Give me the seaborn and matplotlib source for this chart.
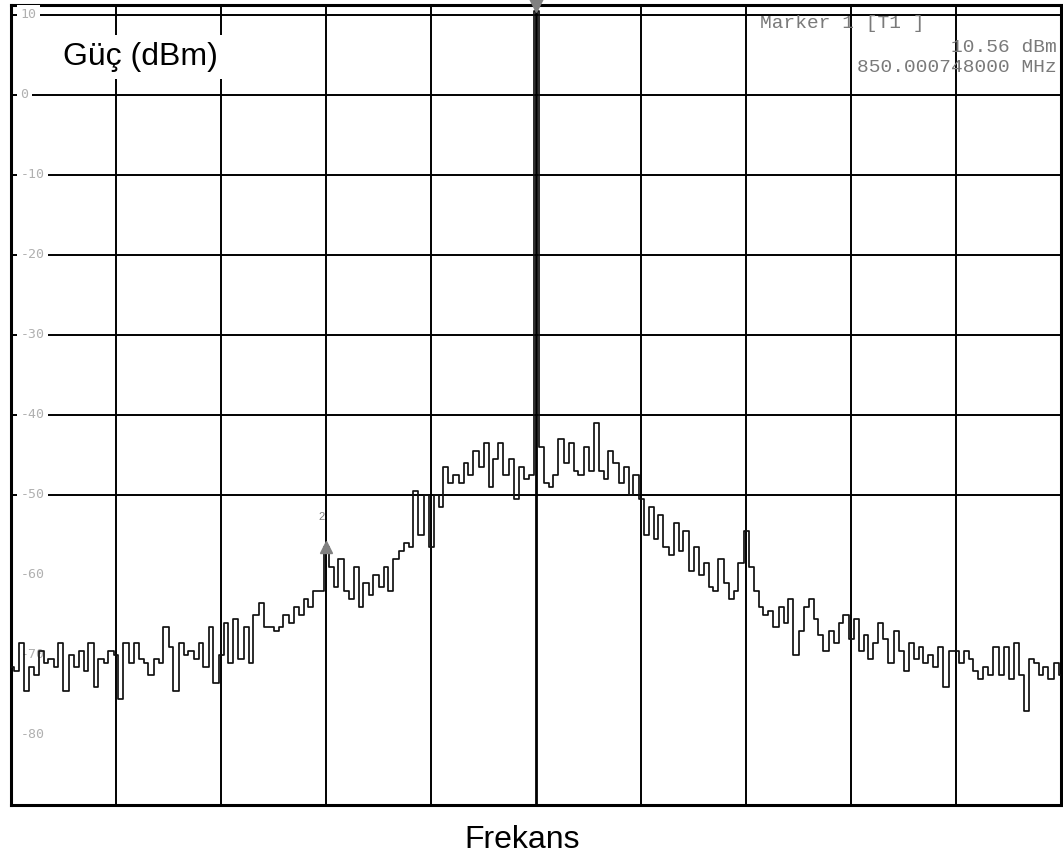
import numpy as np
import pandas as pd
import matplotlib
matplotlib.use("Agg")
import matplotlib.pyplot as plt
import seaborn as sns

# Trace levels (dBm) left of the carrier, one per display bin
trace_left = [
    -71.5, -72.0, -68.5, -74.5, -71.5, -72.5, -69.5, -71.0, -70.5, -71.5,
    -68.5, -74.5, -70.0, -71.5, -69.5, -72.0, -68.5, -74.0, -70.5, -71.0,
    -69.5, -70.0, -75.5, -68.5, -71.0, -68.5, -70.5, -71.0, -72.5, -70.5,
    -71.0, -66.5, -69.0, -74.5, -68.5, -70.0, -69.5, -70.5, -68.5, -71.5,
    -66.5, -73.5, -70.0, -66.0, -71.0, -65.5, -70.5, -66.5, -71.0, -65.0,
    -63.5, -66.5, -66.5, -67.0, -66.5, -65.0, -66.0, -64.0, -65.0, -63.0,
    -64.0, -62.0, -62.0, -56.5, -59.0, -61.5, -58.0, -62.0, -63.0, -59.0,
    -64.0, -61.0, -62.5, -60.0, -61.5, -59.0, -62.0, -58.0, -57.0, -56.0,
    -56.5, -49.5, -55.0, -50.0, -56.5, -50.0, -51.5, -46.5, -48.5, -47.5,
    -48.5, -46.0, -47.5, -44.5, -46.5, -43.5, -49.0, -45.5, -43.5, -47.5,
    -45.5, -50.5, -46.5, -48.0, -47.5,
]
# Carrier peak (marker 1)
carrier_dbm = 10.56
# Trace levels (dBm) right of the carrier
trace_right = [
    -44.0, -48.5, -49.0, -47.5, -43.0, -46.0, -43.5, -47.0, -47.5, -44.0,
    -47.0, -41.0, -47.0, -48.0, -44.5, -46.0, -48.5, -46.5, -50.0, -47.5,
    -50.5, -55.0, -51.5, -55.5, -52.5, -56.5, -57.5, -53.5, -57.0, -54.5,
    -59.5, -56.5, -60.0, -58.5, -61.5, -62.0, -58.0, -61.0, -63.0, -62.0,
    -58.5, -54.5, -59.0, -62.0, -64.0, -65.0, -64.5, -66.5, -64.0, -66.0,
    -63.0, -70.0, -67.0, -64.0, -63.0, -65.5, -67.5, -69.5, -67.0, -68.5,
    -66.0, -65.0, -68.0, -65.5, -69.5, -67.5, -70.5, -68.5, -66.0, -68.0,
    -71.0, -67.0, -69.5, -72.0, -68.5, -70.5, -69.0, -71.0, -70.0, -71.5,
    -69.0, -74.0, -69.5, -69.5, -71.0, -69.5, -70.5, -72.0, -73.0, -71.5,
    -72.5, -69.0, -72.5, -69.0, -73.0, -68.5, -72.5, -77.0, -70.5, -71.0,
    -72.5, -71.5, -73.0, -71.0, -72.5,
]
level_dbm = trace_left + [carrier_dbm] + trace_right

# Reference level scale
scale_values = [10, 0, -10, -20, -30, -40, -50, -60, -70, -80]
scale_labels = ["10", "0", "-10", "-20", "-30", "-40", "-50", "-60", "-70", "-80"]
grid_levels = [10, 0, -10, -20, -30, -40, -50]
grid_divisions = [1, 2, 3, 4, 5, 6, 7, 8, 9]

# Markers
marker1_div = 5.0
marker2_div = 3.0
marker2_dbm = -56.5
marker_freq = "850.000748000 MHz"

sns.set_theme(style="white")
plt.rcParams["font.family"] = ["Liberation Sans", "DejaVu Sans"]

W, H = 1063, 859
fig = plt.figure(figsize=(W / 100, H / 100), dpi=100)
ax = fig.add_axes([11 / W, 1 - 805 / H, 1050 / W, 800 / H])

freq_div = np.linspace(0, 10, len(level_dbm))
df = pd.DataFrame({"div": freq_div, "dBm": level_dbm})
sns.lineplot(data=df, x="div", y="dBm", ax=ax, color="#111111", lw=1.25,
             drawstyle="steps-mid", estimator=None, sort=False, zorder=5)

ax.set_xlim(0, 10)
ax.set_ylim(-88.75, 11.25)
ax.set_xticks([])
ax.set_yticks([])
ax.set_xlabel("")
ax.set_ylabel("")
for s in ax.spines.values():
    s.set_color("black")
    s.set_linewidth(2.2)
    s.set_visible(True)

# Graticule
for d in grid_divisions:
    ax.axvline(d, color="black", lw=2.0 if d == 5 else 1.4, zorder=2)
for v in grid_levels:
    ax.axhline(v, color="black", lw=1.4, zorder=2)

# Level labels along the left edge
for v, s in zip(scale_values, scale_labels):
    ax.text(0.09, v, s, ha="left", va="center", fontsize=9.5,
            family="DejaVu Sans Mono", color="#b0b0b0", zorder=3,
            bbox=dict(facecolor="white", edgecolor="none", pad=2.5))

ax.text(0.495, 4.75, "Güç (dBm)", ha="left", va="center", fontsize=23,
        color="black", zorder=4,
        bbox=dict(facecolor="white", edgecolor="none", pad=5))

# Marker readout
mono = "Liberation Mono"
ax.text(7.13, 9.0, "Marker 1 [T1 ]", ha="left", va="center", fontsize=14,
        family=mono, color="#7a7a7a", zorder=6)
ax.text(9.96, 6.0, f"{carrier_dbm:.2f} dBm", ha="right", va="center",
        fontsize=14, family=mono, color="#7a7a7a", zorder=6)
ax.text(9.96, 3.4, marker_freq, ha="right", va="center", fontsize=14,
        family=mono, color="#7a7a7a", zorder=6)

# Marker symbols
ax.plot([marker1_div], [11.3], marker="v", ms=10, color="#808080",
        clip_on=False, zorder=7)
ax.plot([marker2_div], [marker2_dbm], marker="^", ms=9, color="#808080",
        zorder=7)
ax.text(marker2_div - 0.04, -52.75, "2", ha="center", va="center",
        fontsize=8, color="#808080", zorder=7)

fig.text(522 / W, 1 - 840 / H, "Frekans", ha="center", va="center",
         fontsize=23, color="black")

fig.savefig("out.png", dpi=100)
